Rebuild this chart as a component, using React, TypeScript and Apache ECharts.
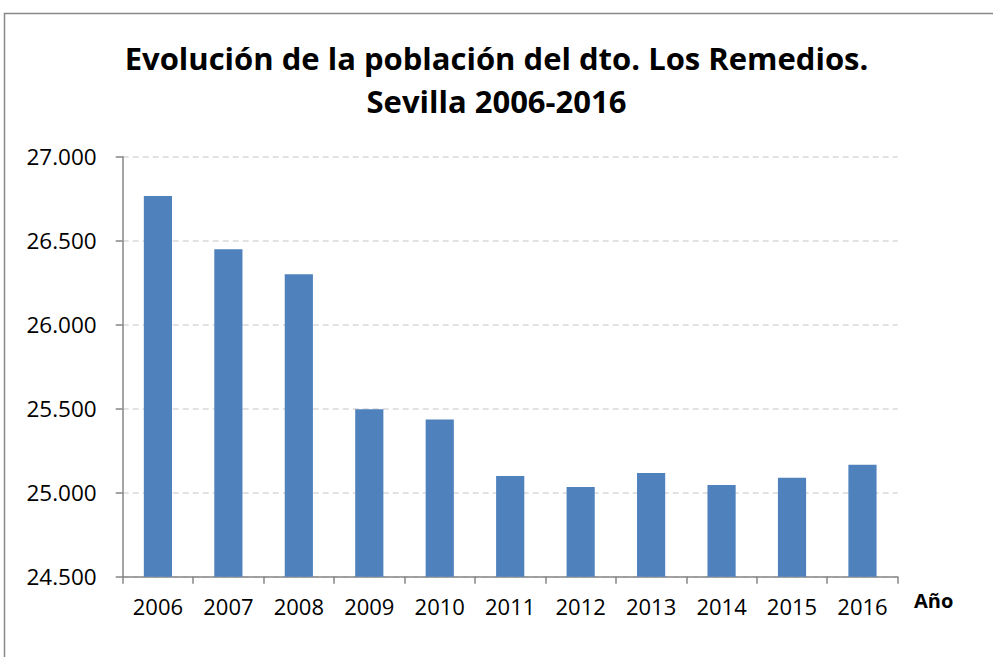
import React, { useEffect, useRef } from "react";
import * as echarts from "echarts";

const titleLines = ["Evolución de la población del dto. Los Remedios.", "Sevilla 2006-2016"];
const years = ["2006", "2007", "2008", "2009", "2010", "2011", "2012", "2013", "2014", "2015", "2016"];
const population = [26766, 26449, 26300, 25497, 25435, 25099, 25034, 25117, 25046, 25089, 25167];
const yMin = 24500;
const yMax = 27000;
const yStep = 500;
const xAxisName = "Año";

const FONT = "'Open Sans', 'Noto Sans', sans-serif";

function fmt(v: number): string {
  return String(Math.round(v)).replace(/\B(?=(\d{3})+(?!\d))/g, ".");
}

export default function App() {
  const ref = useRef<HTMLDivElement>(null);
  useEffect(() => {
    if (!ref.current) return;
    const chart = echarts.init(ref.current, null, { renderer: "svg" });
    chart.setOption({
      animation: false,
      backgroundColor: "#ffffff",
      title: {
        text: titleLines.join("\n"),
        left: "center",
        top: 31,
        textStyle: {
          fontFamily: FONT,
          fontSize: 31,
          fontWeight: "bold",
          color: "#000000",
          lineHeight: 43,
        },
      },
      grid: { left: 122.7, top: 156.7, right: 95.3, bottom: 80.3 },
      xAxis: {
        type: "category",
        data: years,
        axisLine: { lineStyle: { color: "#868686", width: 1.5 } },
        axisTick: { show: true, length: 7, lineStyle: { color: "#868686", width: 1.5 } },
        axisLabel: { fontFamily: FONT, fontSize: 22, color: "#000000", margin: 18 },
      },
      yAxis: {
        type: "value",
        min: yMin,
        max: yMax,
        interval: yStep,
        axisLine: { show: true, lineStyle: { color: "#868686", width: 1.5 } },
        axisTick: { show: true, length: 7, lineStyle: { color: "#868686", width: 1.5 } },
        axisLabel: { fontFamily: FONT, fontSize: 22.5, color: "#000000", margin: 26, formatter: (v: number) => fmt(v) },
        splitLine: { show: true, lineStyle: { color: "#D9D9D9", type: [6, 4], width: 1.5 } },
      },
      series: [
        {
          type: "bar",
          data: population,
          barWidth: "40%",
          itemStyle: { color: "#4F81BD" },
        },
      ],
      graphic: [
        {
          type: "rect",
          shape: { x: 4.5, y: 13.5, width: 1100, height: 800 },
          style: { fill: "none", stroke: "#898989", lineWidth: 1.5 },
          silent: true,
        },
        {
          type: "text",
          x: 914,
          y: 600,
          style: {
            text: xAxisName,
            fontFamily: FONT,
            fontSize: 20,
            fontWeight: "bold",
            fill: "#000000",
            verticalAlign: "middle",
          },
        },
      ],
    });
    return () => chart.dispose();
  }, []);
  return <div ref={ref} style={{ position: "fixed", left: 0, top: 0, width: 993, height: 657 }} />;
}
